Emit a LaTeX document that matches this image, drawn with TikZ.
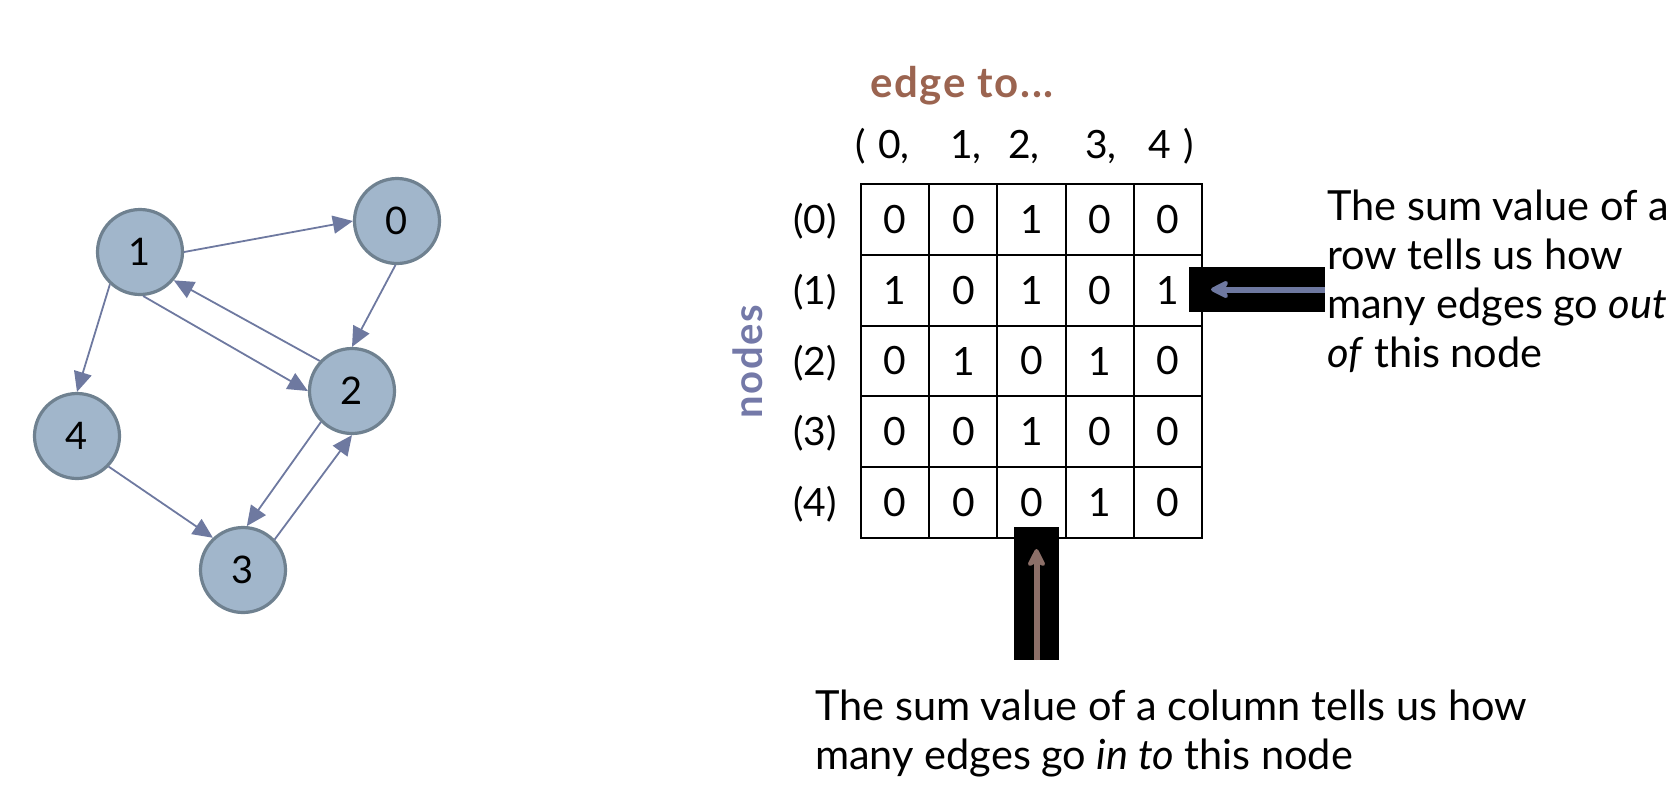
\documentclass[tikz,border=0pt]{standalone}
\usepackage{fontspec}
\setmainfont{Lato}
\usetikzlibrary{arrows.meta}
\definecolor{nodefill}{HTML}{A1B6CB}
\definecolor{nodeborder}{HTML}{6F8190}
\definecolor{edgecol}{HTML}{6E79A0}
\definecolor{outcol}{HTML}{6E78A0}
\definecolor{incol}{HTML}{8C6F68}
\definecolor{edgeto}{HTML}{9B6450}
\definecolor{nodescol}{HTML}{7479A8}
\tikzset{
  gnode/.style={circle, draw=nodeborder, fill=nodefill, line width=3.2pt, minimum size=85pt, inner sep=0pt, font=\fontsize{38}{40}\selectfont},
  gedge/.style={draw=edgecol, line width=1.8pt, -{Triangle[length=20pt,width=18pt]}, shorten >=0pt},
  cell/.style={draw=black, line width=2pt, minimum width=68.2pt, minimum height=70.8pt, inner sep=0pt, font=\fontsize{39}{42}\selectfont},
  hdr/.style={anchor=base west, inner sep=0pt, font=\fontsize{39}{42}\selectfont},
  rowlab/.style={anchor=base east, inner sep=0pt, font=\fontsize{39}{42}\selectfont},
  blackbox/.style={fill=black, draw=none, inner sep=0pt},
  boxarrow/.style={line width=6pt, -{Stealth[length=22pt,width=22pt,inset=6pt,round]}},
  bodytext/.style={anchor=north west, align=left, inner sep=0pt, font=\fontsize{41.5}{49}\selectfont}
}
\begin{document}
\begin{tikzpicture}[x=1pt,y=-1pt]
\useasboundingbox (0,0) rectangle (1670,796);

% graph
\node[gnode] (n0) at (397,221) {0};
\node[gnode] (n1) at (140,252) {1};
\node[gnode] (n2) at (352,391) {2};
\node[gnode] (n3) at (243,570) {3};
\node[gnode] (n4) at (77,436) {4};
\draw[gedge] (n1.0) -- (n0.180);
\draw[gedge] (n0.268) -- (n2.90);
\draw[gedge] (n1.274) -- (n2.180);
\draw[gedge] (n2.137) -- (n1.320);
\draw[gedge] (n1.227) -- (n4.90);
\draw[gedge] (n4.316) -- (n3.133);
\draw[gedge] (n2.225) -- (n3.85);
\draw[gedge] (n3.44) -- (n2.270);

% titles
\node[anchor=base west, inner sep=0pt, text=edgeto, font=\fontsize{42}{44}\selectfont\bfseries\addfontfeature{LetterSpace=4}] (edgeto) at (870,97) {edge to...};
\node[anchor=base, rotate=90, inner sep=0pt, text=nodescol, font=\fontsize{40}{42}\selectfont\bfseries\addfontfeature{LetterSpace=4}] (nodeslab) at (762,361.5) {nodes};

% header
\node[hdr] (h0) at (855,158) {(};
\node[hdr] (h1) at (878,158) {0,};
\node[hdr] (h2) at (950,158) {1,};
\node[hdr] (h3) at (1008,158) {2,};
\node[hdr] (h4) at (1085,158) {3,};
\node[hdr] (h5) at (1148,158) {4};
\node[hdr] (h6) at (1183,158) {)};

% row labels
\foreach \r in {0,...,4} {
  \node[rowlab] (r\r) at (837,{184+70.8*(\r+0.5)+14}) {(\r)};
}

% matrix cells
\foreach \row/\vals in {0/{0,0,1,0,0},1/{1,0,1,0,1},2/{0,1,0,1,0},3/{0,0,1,0,0},4/{0,0,0,1,0}} {
  \foreach \v [count=\c from 0] in \vals {
    \node[cell] (c\row\c) at ({861+68.2*(\c+0.5)},{184+70.8*(\row+0.5)}) {\v};
  }
}

% out-degree pointer
\node[blackbox, minimum width=136pt, minimum height=45pt] (rbox) at (1257,289.5) {};
\coordinate (rtip) at (1211,289.5);
\draw[boxarrow, draw=outcol, fill=outcol] (rbox.east) -- (rtip);

% in-degree pointer
\node[blackbox, minimum width=45pt, minimum height=133pt] (bbox) at (1036.5,593.5) {};
\coordinate (btip) at (1036.5,549);
\draw[boxarrow, draw=incol, fill=incol] (bbox.south) -- (btip);

% explanations
\node[bodytext] (rtext) at (1327,190) {The sum value of a\\row tells us how\\many edges go \textit{out}\\\textit{of} this node};
\node[bodytext] (btext) at (815,690) {The sum value of a column tells us how\\many edges go \textit{in to} this node};
\end{tikzpicture}
\end{document}
